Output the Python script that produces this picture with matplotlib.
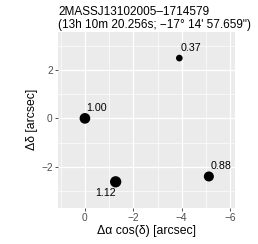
import numpy as np
import matplotlib.pyplot as plt

plt.rcParams['font.family'] = ['Liberation Sans', 'DejaVu Sans']

# offsets of the companions relative to the primary
dra = [0.0, -1.27, -3.9, -5.12]
ddec = [0.0, -2.62, 2.49, -2.40]
flux = [1.00, 1.12, 0.37, 0.88]
labels = ["1.00", "1.12", "0.37", "0.88"]

title = "2MASSJ13102005\u20131714579\n(13h 10m 20.256s; \u221217\u00b0 14' 57.659\")"

fig = plt.figure(figsize=(2.58, 2.44), dpi=100)
ax = fig.add_axes([58.3 / 258, 1 - 207.7 / 244, 176.7 / 258, 176 / 244])
ax.set_facecolor("#EBEBEB")

# size scaled by flux (area-linear, like ggplot)
f = np.array(flux)
sizes = 23 + (f - 0.37) / (1.12 - 0.37) * (66 - 23)
ax.scatter(dra, ddec, s=sizes, color="black", linewidths=0, zorder=3)

offs = {"1.00": ((1, 7.5), "left"), "1.12": ((0, -8), "right"),
        "0.37": ((1, 7.5), "left"), "0.88": ((1, 7.5), "left")}
for x, y, lab in zip(dra, ddec, labels):
    o, ha = offs[lab]
    ax.annotate(lab, (x, y), xytext=o, textcoords="offset points",
                fontsize=7.7, color="black", ha=ha, va="center", zorder=4)

ax.set_xlim(1.1, -6.2)
ax.set_ylim(-3.69, 3.58)
ax.set_xticks([0, -2, -4, -6])
ax.set_xticklabels(["0", "\u22122", "\u22124", "\u22126"])
ax.set_yticks([-2, 0, 2])
ax.set_yticklabels(["\u22122", "0", "2"])
ax.set_xticks([1, -1, -3, -5], minor=True)
ax.set_yticks([3, 1, -1, -3], minor=True)
ax.grid(which="major", color="white", linewidth=0.9)
ax.grid(which="minor", color="white", linewidth=0.45)
ax.set_axisbelow(True)
for s in ax.spines.values():
    s.set_visible(False)
ax.tick_params(which="major", length=2.5, width=0.6, color="#333333",
               labelsize=7.3, labelcolor="#4D4D4D", pad=1.5)
ax.tick_params(which="minor", length=0)

ax.set_xlabel("\u0394\u03b1 cos(\u03b4) [arcsec]", fontsize=8.8, labelpad=1.5)
ax.set_ylabel("\u0394\u03b4 [arcsec]", fontsize=8.8, labelpad=2)
ax.set_title(title, fontsize=8.5, loc="left", pad=3, linespacing=1.05)

fig.savefig("out.png", dpi=100)
